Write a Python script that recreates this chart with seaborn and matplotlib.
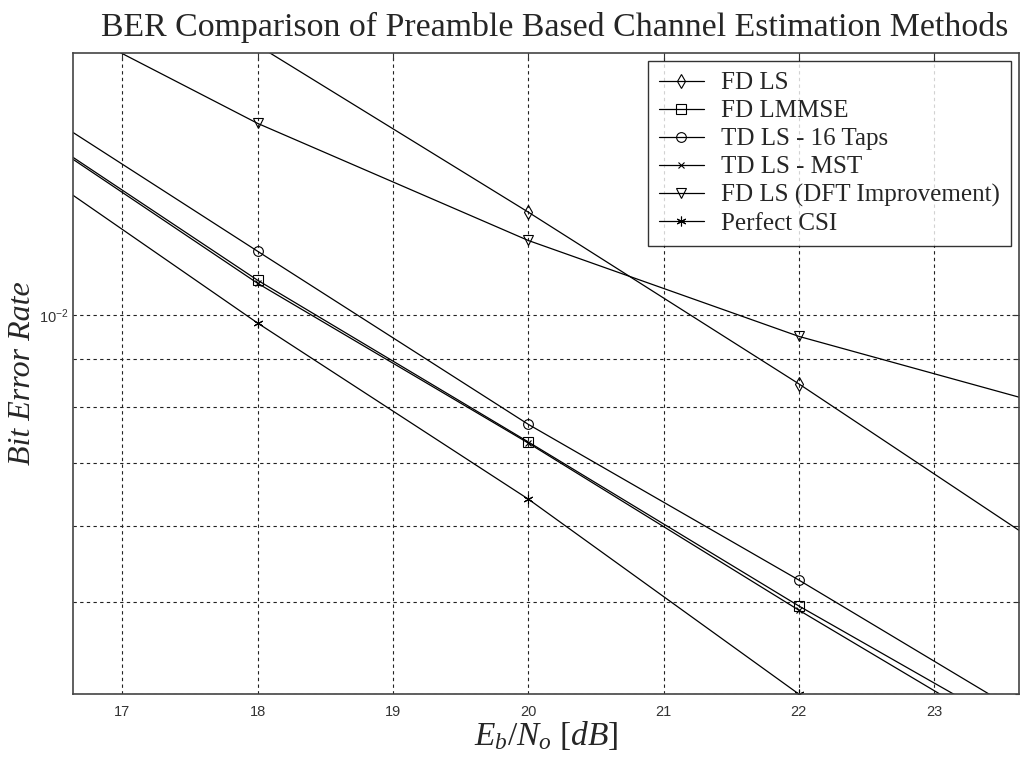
import matplotlib
matplotlib.use("Agg")
import matplotlib.pyplot as plt
import matplotlib.ticker as mticker
import seaborn as sns
import numpy as np
import pandas as pd

# Eb/No points (dB) of the simulation
ebno = [16, 18, 20, 22, 24]

# BER
fd_ls = [2.85e-2, 1.92e-2, 1.283e-2, 8.47e-3, 5.48e-3]
fd_lmmse = [1.682e-2, 1.088e-2, 7.36e-3, 4.95e-3, 3.41e-3]
td_ls_16 = [1.778e-2, 1.167e-2, 7.68e-3, 5.27e-3, 3.56e-3]
td_ls_mst = [1.676e-2, 1.080e-2, 7.34e-3, 4.90e-3, 3.32e-3]
fd_ls_dft = [2.228e-2, 1.590e-2, 1.198e-2, 9.50e-3, 7.93e-3]
perfect_csi = [1.543e-2, 9.81e-3, 6.41e-3, 4.00e-3, 2.50e-3]

labels = ["FD LS", "FD LMMSE", "TD LS - 16 Taps", "TD LS - MST",
          "FD LS (DFT Improvement)", "Perfect CSI"]
series = [fd_ls, fd_lmmse, td_ls_16, td_ls_mst, fd_ls_dft, perfect_csi]
markers = ["d", "s", "o", "x", "v", (6, 2, 0)]
msizes = [7, 7, 7, 4, 7, 7]

sns.set_theme(style="white")
plt.rcParams["font.family"] = ["Liberation Serif", "DejaVu Serif"]
plt.rcParams["mathtext.fontset"] = "custom"
plt.rcParams["mathtext.it"] = "Liberation Serif:italic"
plt.rcParams["mathtext.rm"] = "Liberation Serif"

fig = plt.figure(figsize=(10.24, 7.63), dpi=100)
ax = fig.add_axes([0.0713, 0.0904, 0.9237, 0.8401])

for name, vals, m, ms in zip(labels, series, markers, msizes):
    df = pd.DataFrame({"ebno": ebno, "ber": vals})
    sns.lineplot(data=df, x="ebno", y="ber", ax=ax, color="black", lw=0.9,
                 marker=m, markersize=ms, markerfacecolor="none",
                 markeredgecolor="black", markeredgewidth=0.8, label=name)

ax.set_yscale("log")
ax.set_xlim(16.635, 23.627)
ax.set_ylim(4e-3, 1.885e-2)
ax.set_xticks([17, 18, 19, 20, 21, 22, 23])
ax.yaxis.set_major_locator(mticker.LogLocator(base=10, numticks=10))
ax.yaxis.set_minor_locator(mticker.LogLocator(base=10, subs=np.arange(2, 10), numticks=10))
ax.yaxis.set_minor_formatter(mticker.NullFormatter())

grid_kw = dict(color="#222222", linestyle=(0, (3, 3)), linewidth=0.8)
ax.grid(True, which="major", axis="both", **grid_kw)
ax.grid(True, which="minor", axis="y", **grid_kw)

ax.tick_params(axis="both", which="both", direction="in", top=True, right=True,
               length=5, width=0.8, color="#333333", labelsize=10.5,
               labelcolor="#333333")
ax.tick_params(axis="x", pad=8)
ax.tick_params(axis="y", which="minor", length=3)
for lab in ax.get_xticklabels() + ax.get_yticklabels():
    lab.set_family(["Liberation Sans", "DejaVu Sans"])
for sp in ax.spines.values():
    sp.set_color("#444444")
    sp.set_linewidth(1.2)

ax.set_title("BER Comparison of Preamble Based Channel Estimation Methods",
             fontsize=24.4, pad=12, x=0.509)
ax.set_xlabel(r"$E_b/N_o\ [dB]$", fontsize=24, labelpad=0)
ax.set_ylabel("Bit Error Rate", fontsize=23, style="italic")
ax.yaxis.set_label_coords(-0.038, 0.5)

leg = ax.legend(loc="upper right", fontsize=18, frameon=True, fancybox=False,
                edgecolor="black", handlelength=1.8, handletextpad=0.7,
                borderpad=0.45, labelspacing=0.22, borderaxespad=0.3)
leg.get_frame().set_linewidth(1.0)

fig.savefig("out.png", dpi=100, facecolor="white")
